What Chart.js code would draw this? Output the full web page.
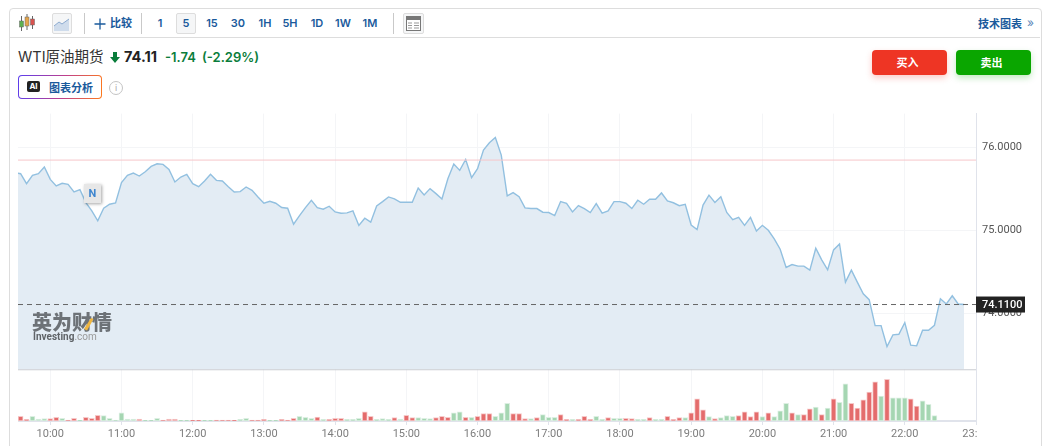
<!DOCTYPE html>
<html lang="zh">
<head>
<meta charset="utf-8">
<title>WTI原油期货</title>
<script src="https://cdn.jsdelivr.net/npm/chart.js@4"></script>
<style>
  html, body { margin: 0; padding: 0; background: #fff; overflow: hidden; }
  body { width: 1050px; height: 446px; position: relative; font-family: Inter, "Noto Sans CJK SC", sans-serif; }
  .abs { position: absolute; white-space: nowrap; }
  #card { left: 9px; top: 8px; width: 1031px; height: 460px; border: 1px solid #ddd; border-radius: 4px; box-sizing: content-box; }
  #rule { left: 10px; top: 37px; width: 1030px; height: 1px; background: #ddd; }
  .sep { top: 13px; width: 1px; height: 21px; background: #c9c9c9; }
  .tb { top: 16px; font: 600 11px/15px Inter, "Noto Sans CJK SC", sans-serif; color: #1a5a9c; transform: translateX(-50%); }
  .box { top: 13px; height: 21px; border: 1px solid #ddd; border-radius: 2px; background: #f5f6f7; box-sizing: border-box; }
  .btn { top: 50px; width: 75px; height: 25px; padding-right: 4px; box-sizing: border-box; border-radius: 4px; color: #fff; text-align: center; font: 700 11px/25px "Noto Sans CJK SC", sans-serif; }
  #chartWrap { left: 18px; top: 101px; width: 1023px; height: 345px; }
  #nTag { left: 84px; top: 184px; width: 17px; height: 19px; background: #e7e7e7; box-shadow: 1px 1px 3px rgba(0,0,0,.35); color: #3f86cf; font: 700 11px/19px Roboto, sans-serif; text-align: center; }
</style>
</head>
<body>
<div class="abs" id="card"></div>
<div class="abs" id="rule"></div>

<svg class="abs" style="left:18px;top:14px" width="18" height="19" viewBox="0 0 18 19">
  <path d="M3.5 2v15M9 0v16M14.5 2v13" stroke="#666" fill="none"/>
  <rect x="1.5" y="7" width="4" height="6" fill="#5db04f" stroke="#666" stroke-width=".5"/>
  <rect x="7" y="3" width="4" height="9" fill="#e4a54b" stroke="#666" stroke-width=".5"/>
  <rect x="12.5" y="5" width="4" height="6" fill="#d9534f" stroke="#666" stroke-width=".5"/>
</svg>
<div class="abs box" style="left:52px;width:20px"></div>
<svg class="abs" style="left:54px;top:17px" width="16" height="14" viewBox="0 0 16 14">
  <path d="M0 9L5 5L8 7L15 2V14H0Z" fill="#cfdcec"/><path d="M0 9L5 5L8 7L15 2" stroke="#8dabd0" fill="none"/>
</svg>
<div class="abs sep" style="left:84px"></div>
<svg class="abs" style="left:94px;top:18px" width="12" height="12" viewBox="0 0 12 12"><path d="M6 0.5V11.5M0.5 6H11.5" stroke="#1a5a9c" stroke-width="1.3"/></svg>
<div class="abs tb" style="left:121px">比较</div>
<div class="abs sep" style="left:141px"></div>
<div class="abs tb" style="left:160px">1</div>
<div class="abs box" style="left:176px;width:20px"></div>
<div class="abs tb" style="left:186px">5</div>
<div class="abs tb" style="left:212px">15</div>
<div class="abs tb" style="left:238px">30</div>
<div class="abs tb" style="left:265px">1H</div>
<div class="abs tb" style="left:290px">5H</div>
<div class="abs tb" style="left:317px">1D</div>
<div class="abs tb" style="left:343px">1W</div>
<div class="abs tb" style="left:370px">1M</div>
<div class="abs sep" style="left:393px"></div>
<div class="abs box" style="left:403px;width:21px"></div>
<svg class="abs" style="left:406px;top:16px" width="15" height="15" viewBox="0 0 15 15">
  <rect x=".5" y=".5" width="14" height="14" fill="#fff" stroke="#777"/>
  <rect x="1" y="1" width="13" height="3" fill="#777"/>
  <path d="M2 7h4M2 9.5h4M2 12h4M8 7h5M8 9.5h5M8 12h5" stroke="#999"/>
</svg>
<div class="abs" style="left:978px;top:16px;font:600 11px/15px 'Noto Sans CJK SC',sans-serif;color:#1a5a9c">技术图表</div>
<div class="abs" style="left:1027px;top:15px;font:400 12px/15px Inter,sans-serif;color:#5b86b8">»</div>

<div class="abs" style="left:18px;top:47px;font:400 14.5px/20px Inter,'Noto Sans CJK SC',sans-serif;color:#333">WTI原油期货</div>
<svg class="abs" style="left:110px;top:52px" width="10" height="11" viewBox="0 0 10 11"><path d="M3 0h4v5h3L5 11L0 5h3Z" fill="#0a7d3b"/></svg>
<div class="abs" style="left:124px;top:47px;font:700 14.5px/20px Inter,sans-serif;color:#222">74.11</div>
<div class="abs" style="left:165px;top:47px;font:600 13px/20px Inter,sans-serif;color:#0a7d3b">-1.74</div>
<div class="abs" style="left:202px;top:47px;font:600 13px/20px Inter,sans-serif;color:#0a7d3b">(-2.29%)</div>

<div class="abs" style="left:18px;top:75px;width:84px;height:24px;box-sizing:border-box;border:1px solid transparent;border-radius:4px;background:linear-gradient(#fff,#fff) padding-box,linear-gradient(100deg,#5a3df0,#c0408a 55%,#ff7a1a) border-box"></div>
<div class="abs" style="left:27px;top:81px;width:13px;height:11px;background:#222;border-radius:2px;color:#fff;font:700 8px/11px Inter,sans-serif;text-align:center">AI</div>
<div class="abs" style="left:49px;top:79px;font:600 11px/16px 'Noto Sans CJK SC',sans-serif;color:#1a5a9c">图表分析</div>
<div class="abs" style="left:109px;top:81px;width:12px;height:12px;border:1px solid #c4c4c4;border-radius:50%;color:#aaa;font:400 9px/12px Inter,sans-serif;text-align:center">i</div>

<div class="abs btn" style="left:872px;background:#ee3524;box-shadow:0 3px 6px rgba(238,53,36,.25)">买入</div>
<div class="abs btn" style="left:956px;background:#0aa600;box-shadow:0 3px 6px rgba(10,166,0,.25)">卖出</div>

<div class="abs" id="chartWrap"><canvas id="chart"></canvas></div>
<div class="abs" id="nTag">N</div>

<div class="abs" style="left:32px;top:311px;font:900 20px/22px 'Noto Sans CJK SC',sans-serif;color:#6d7277">英为财情</div>
<svg class="abs" style="left:84px;top:318px" width="10" height="13" viewBox="0 0 10 13"><path d="M7 0L9.5 1L3 12.5L0 11Z" fill="#f0b640"/></svg>
<div class="abs" style="left:33px;top:330px;font:700 10px/13px Roboto,sans-serif;color:#5f6367">Investing<span style="font-weight:400;color:#999">.com</span></div>

<script>
// The price line begins one bar before the first volume bar, off the left edge
const priceStartMinute = 570; // 09:30
const volumeStartMinute = 575; // 09:35
const stepMinutes = 5;

const prices = [
  75.70,
  75.686, 75.566, 75.666, 75.686, 75.766, 75.618, 75.538, 75.57, 75.558, 75.466,
  75.494, 75.338, 75.238, 75.118, 75.27, 75.318, 75.334, 75.578, 75.666, 75.694,
  75.658, 75.71, 75.774, 75.806, 75.798, 75.738, 75.586, 75.646, 75.678, 75.566,
  75.53, 75.598, 75.678, 75.606, 75.598, 75.53, 75.466, 75.47, 75.526, 75.486,
  75.406, 75.33, 75.354, 75.33, 75.278, 75.27, 75.078, 75.182, 75.278, 75.366,
  75.278, 75.258, 75.294, 75.226, 75.21, 75.214, 75.238, 75.062, 75.15, 75.102,
  75.298, 75.35, 75.406, 75.382, 75.342, 75.342, 75.342, 75.514, 75.43, 75.506,
  75.446, 75.382, 75.626, 75.802, 75.726, 75.858, 75.638, 75.746, 75.97, 76.058,
  76.122, 75.91, 75.418, 75.458, 75.41, 75.274, 75.266, 75.266, 75.222, 75.218,
  75.182, 75.35, 75.33, 75.226, 75.302, 75.266, 75.218, 75.326, 75.21, 75.238,
  75.35, 75.35, 75.33, 75.266, 75.366, 75.318, 75.378, 75.378, 75.454, 75.358,
  75.336, 75.3, 75.316, 75.068, 75.012, 75.308, 75.428, 75.34, 75.408, 75.22,
  75.132, 75.16, 75.064, 75.16, 74.996, 75.064, 75.004, 74.9, 74.776, 74.556,
  74.592, 74.572, 74.572, 74.524, 74.788, 74.648, 74.528, 74.768, 74.84, 74.38,
  74.524, 74.38, 74.24, 74.168, 73.856, 73.856, 73.604, 73.744, 73.752, 73.892,
  73.62, 73.612, 73.8, 73.8, 73.86, 74.18, 74.116, 74.216, 74.116, 74.11
];

const volumes = [
  14, 5, 14, 6, 7, 7, 11, 8, 3, 8,
  2, 11, 8, 17, 16, 8, 3, 25, 6, 6,
  6, 2, 2, 8, 3, 6, 6, 2, 2, 2,
  2, 2, 2, 3, 3, 3, 2, 5, 8, 3,
  3, 5, 2, 2, 5, 3, 8, 14, 11, 8,
  12, 5, 5, 8, 8, 5, 5, 8, 28, 14,
  5, 7, 5, 10, 6, 17, 10, 10, 8, 7,
  10, 14, 11, 25, 28, 11, 11, 14, 22, 22,
  14, 25, 53, 22, 22, 7, 7, 10, 19, 11,
  11, 19, 5, 5, 5, 14, 5, 14, 5, 10,
  8, 8, 8, 7, 5, 5, 10, 5, 5, 14,
  5, 10, 10, 25, 67, 34, 13, 7, 10, 16,
  14, 16, 28, 13, 28, 13, 25, 13, 31, 53,
  25, 19, 19, 37, 42, 19, 39, 67, 56, 112,
  53, 39, 64, 87, 118, 75, 126, 70, 70, 70,
  67, 45, 61, 50, 16
];

// r = red bar, g = green bar, one letter per volume
const volumeSides = (
  'rrgggrrgrr' + 'grrrgggggg' + 'rgggrrrggr' + 'rggrrrrggr' +
  'rrggrrrggg' + 'rgrrrgggrr' + 'gggrgrrggg' + 'rrrggrgrrr' +
  'gggrrrgrgg' + 'grrgrrrggr' + 'ggrrggrggr' + 'rrgrrrgrgg' +
  'grrrrgrggg' + 'rgrrgrgrgg' + 'rrrrrgrggg' + 'rrggg'
).split('');

const hourTicks = [600, 660, 720, 780, 840, 900, 960, 1020, 1080, 1140, 1200, 1260, 1320, 1380];
const priceTicks = [74, 75, 76];
const prevClose = 75.85;
const lastPrice = 74.11;

const hhmm = (m) => String(Math.floor(m / 60)).padStart(2, '0') + ':' + String(m % 60).padStart(2, '0');

const xMin = 572.8;
const xMax = 1380;

// Last-price tag, pane separator and the clipped 23:00 label
const overlay = {
  id: 'overlay',
  afterDraw(chart) {
    const { ctx, scales: { x, y, yv } } = chart;
    ctx.save();
    ctx.fillStyle = '#fff';
    ctx.fillRect(x.right + 1, yv.bottom + 1, 60, 30);
    ctx.strokeStyle = '#c9ccd1';
    ctx.beginPath();
    ctx.moveTo(x.left, y.bottom + 0.5);
    ctx.lineTo(x.right, y.bottom + 0.5);
    ctx.stroke();
    const py = y.getPixelForValue(lastPrice);
    ctx.fillStyle = '#222';
    ctx.fillRect(x.right, py - 8, 49, 16);
    ctx.fillStyle = '#fff';
    ctx.font = '500 11px Roboto';
    ctx.textBaseline = 'middle';
    ctx.fillText(lastPrice.toFixed(4), x.right + 6, py + 0.5);
    ctx.restore();
  },
};

new Chart(document.getElementById('chart'), {
  data: {
    datasets: [
      {
        type: 'line', xAxisID: 'x', yAxisID: 'y', order: 3,
        data: prices.map((v, i) => ({ x: priceStartMinute + i * stepMinutes, y: v })),
        borderColor: '#92c0e0', borderWidth: 1.4, backgroundColor: '#e3ecf4',
        fill: 'start', tension: 0, pointRadius: 0,
      },
      {
        type: 'line', xAxisID: 'x', yAxisID: 'y', order: 2,
        data: [{ x: xMin, y: prevClose }, { x: xMax, y: prevClose }],
        borderColor: '#f6c6ca', borderWidth: 1, pointRadius: 0,
      },
      {
        type: 'line', xAxisID: 'x', yAxisID: 'y', order: 1,
        data: [{ x: xMin, y: lastPrice }, { x: xMax, y: lastPrice }],
        borderColor: '#666', borderWidth: 1, borderDash: [5, 4], pointRadius: 0,
      },
      {
        type: 'bar', xAxisID: 'x', yAxisID: 'yv', order: 4,
        data: volumes.map((v, i) => ({ x: volumeStartMinute + i * stepMinutes, y: v })),
        backgroundColor: volumeSides.map((s) => (s === 'r' ? '#e46c6c' : '#a5d6b2')),
        borderColor: volumeSides.map((s) => (s === 'r' ? '#f6c9c9' : '#dcefe2')),
        borderWidth: 1, borderSkipped: false, barThickness: 5,
      },
    ],
  },
  options: {
    responsive: true, maintainAspectRatio: false, animation: false,
    layout: { padding: 0 },
    plugins: { legend: { display: false }, tooltip: { enabled: false } },
    scales: {
      x: {
        type: 'linear', min: xMin, max: xMax, offset: false,
        afterBuildTicks: (s) => { s.ticks = hourTicks.map((value) => ({ value })); },
        afterFit: (s) => { s.height = 25; },
        grid: { color: '#f4f5f7', tickLength: 4, tickColor: '#e0e3eb', offset: false },
        border: { color: '#e0e3eb', width: 2 },
        ticks: {
          maxRotation: 0, autoSkip: false, padding: 3, color: '#7d7d7d',
          font: { family: 'Roboto', size: 11 },
          callback: (v) => hhmm(v),
        },
      },
      y: {
        type: 'linear', position: 'right', stack: 'panes', stackWeight: 257,
        min: 73.33, max: 76.41,
        afterBuildTicks: (s) => { s.ticks = priceTicks.map((value) => ({ value })); },
        afterFit: (s) => { s.width = 65; },
        grid: { color: '#f4f5f7', tickLength: 0 },
        border: { color: '#e0e3eb' },
        ticks: {
          padding: 6, color: '#555', font: { family: 'Roboto', size: 11 },
          callback: (v) => v.toFixed(4),
        },
      },
      yv: {
        type: 'linear', position: 'right', stack: 'panes', stackWeight: 52,
        min: 0, max: 156,
        afterFit: (s) => { s.width = 65; },
        grid: { display: false },
        border: { color: '#e0e3eb' },
        ticks: { display: false },
      },
    },
  },
  plugins: [overlay],
});
</script>
</body>
</html>
